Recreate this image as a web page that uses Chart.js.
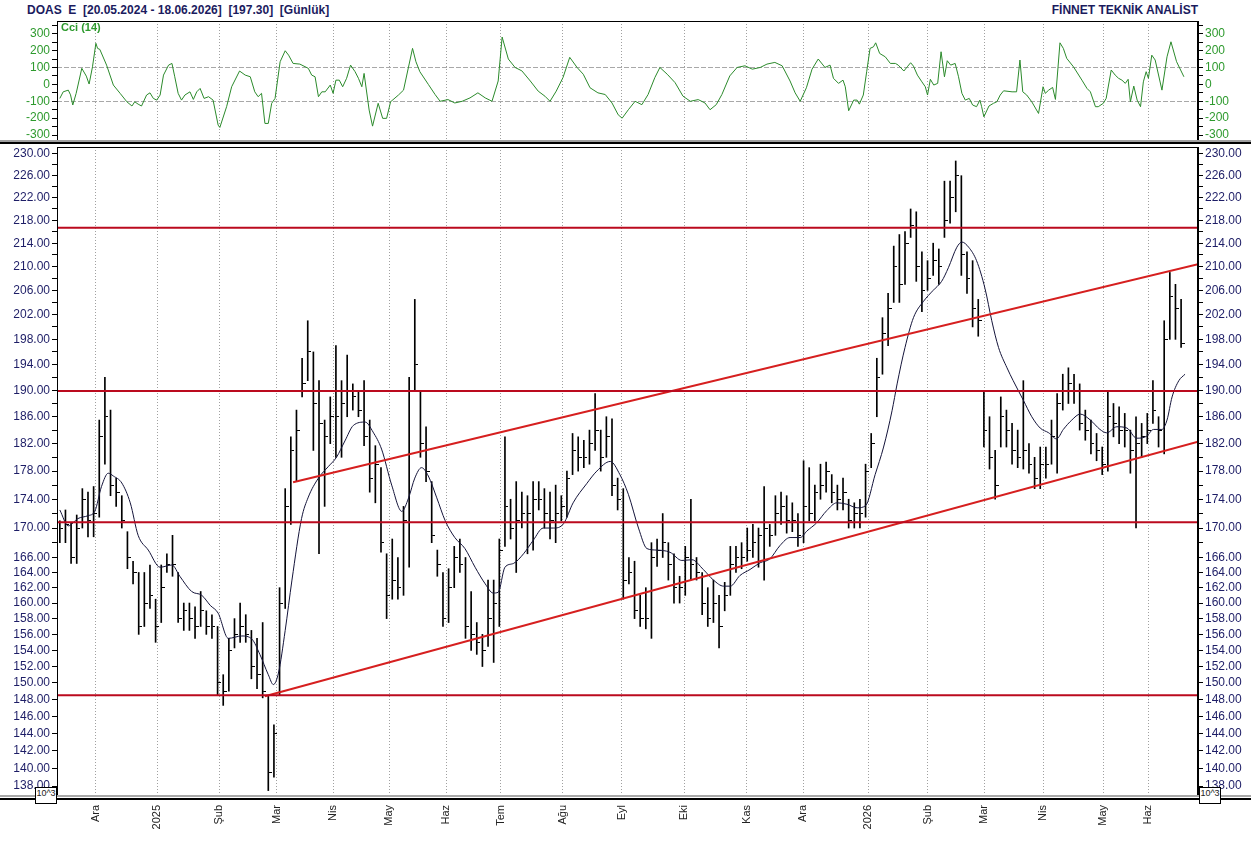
<!DOCTYPE html>
<html>
<head>
<meta charset="utf-8">
<script src="https://cdn.jsdelivr.net/npm/chart.js@4.4.1/dist/chart.umd.min.js"></script>
<style>
html, body { margin: 0; padding: 0; background: #fff; }
body { width: 1251px; height: 841px; position: relative; overflow: hidden; font-family: "Liberation Sans", Arial, sans-serif; }
canvas { position: absolute; left: 0; }
#cci { top: 18px; }
#main { top: 142px; }
.title { position: absolute; top: 3px; font-weight: bold; font-size: 12px; color: #1b1b5e; white-space: pre; }
.cciName { position: absolute; left: 61px; top: 21px; font-size: 11px; font-weight: bold; color: #2e9a2e; }
.line { position: absolute; left: 0; width: 1251px; }
.exp { position: absolute; top: 787px; width: 20px; height: 15px; border: 1px solid #000; background: #fff; font-size: 9px; line-height: 11px; text-align: center; color: #222; }
</style>
</head>
<body>
<div class="title" style="left:27px">DOAS  E  [20.05.2024 - 18.06.2026]  [197.30]  [Günlük]</div>
<div class="title" style="right:53px">FİNNET TEKNİK ANALİST</div>
<canvas id="cci" width="1251" height="123"></canvas>
<canvas id="main" width="1251" height="699"></canvas>
<div class="line" style="top:140px;height:2px;background:#a0a0a0"></div>
<div class="line" style="top:142px;height:2px;background:#000"></div>
<div class="line" style="top:795px;height:2px;background:#a8a8a8"></div>
<div class="line" style="top:798px;height:2px;background:#000"></div>
<div class="cciName">Cci (14)</div>
<div class="exp" style="left:35px">10^3</div>
<div class="exp" style="left:1199px">10^3</div>
<script>
// x axis: one bar = one slot, month labels sit on these slots
const monthLabels = ['Ara','2025','Şub','Mar','Nis','May','Haz','Tem','Ağu','Eyl','Eki','Kas','Ara','2026','Şub','Mar','Nis','May','Haz']
const monthBars = [6.37,17.31,28.31,38.5,48.54,58.48,68.55,78.26,89.26,99.73,110.84,121.92,131.97,143.5,154.05,164.1,174.56,185.2,193.2]
const xMin = -0.5
const xMax = 202

// price bars
const highs = [171,172.5,170.7,171.8,175.5,175,175.8,185.5,192,187,177,174.5,169.5,165.5,164,164,165,160.5,165,166.5,
  169,164,160,160,159.5,161.5,159,158.5,157,151,155.5,158,160,158.5,156.5,155.5,157.5,148.5,145,162,
  175.5,183,187,195,201,196,191.5,185.5,189,197,191.5,195.5,191,190,191.5,185.5,181.7,178.5,166.5,168.5,
  166,173,192,204.5,190,184.5,176.5,167,164,164.5,167.5,168.5,166,161.5,157.5,156,163,163,168.5,183,
  174,176.5,175,174.5,176.5,176.5,175.5,175,176,174.5,178,183.5,183,182.5,184,189.5,184,186,185.7,177,
  175.5,166,165.5,161,162,168,168.5,172,168,166.5,163.5,167.5,174,166,164,162,163,161,162.7,167.5,
  167.5,168,170,170.5,170,175.8,170.5,174.5,175,174.5,173.5,172,179.5,178.5,176,179,179.3,177.5,176,177,
  174,173.5,174,179,183.5,195,201.5,205.5,213.5,215.5,216,220,219.5,212.5,211,214,213,225,225,228.7,
  226,212.5,211,204.5,190,186,181,189,187,185,184,191.5,182,180,181.5,181.5,185.5,189.5,192.5,193.5,
  192.5,191,187,185.5,183.5,181.5,190,188,187.5,186.5,184,186,185,186.5,191.5,186,201,209,207,204.5]
const lows = [168,168,165.2,165.2,170,168.8,168.8,171.5,179,174.5,173,170,164.5,162.5,156,157,159.3,155,157.5,164,
  163.5,157.5,156.5,156.5,155.5,157,156,155.5,148.5,147.3,149,154.3,155,155,150.5,149.3,148.2,137.5,139,148.5,
  159.3,170.5,176.5,189,191.5,181,166.5,173,182,180,180,186,187,186,181.7,175,173.5,166.7,158,160.5,
  160.5,161,164.7,190,180,176.5,168,163.5,157,157.5,162,164,155.5,154,153.5,152,154.5,152.5,157,167.5,
  168.5,164,170,166.5,167,172.5,170,168.5,168,171,171.5,177.5,178,178.5,179,181,178,180,174.5,172.5,
  160.5,162.5,158,157,156.7,155.5,164.8,166,163,160,160,161,163,163,158.5,157,157.5,154.3,159,161,
  164,164.5,165.5,166,164.7,163,167.5,169,170.5,169.3,169.5,167.5,168,171,171,174,175,173.5,172.5,172.5,
  170,170,170,171.5,178.5,186,192.5,197,204,204,207,215,207.5,202.5,206,208.5,207,215,217.5,219.5,
  208.5,205.5,200,198.5,181.5,178.3,174,181.5,181.5,179,178.5,178.3,177.7,175.5,175.5,177,179,177.7,187,188,
  188,184,182.5,180.5,179.5,177.5,178,183,182,181.5,177.7,170,180,182,185,181.5,180.5,198,198,196.7]
const closes = [170,170.5,166,170,174,171,172,183,186,176,175,171,166,164,157,160,161,157,162,165,
  165,158,159,158,157,159,157,157,150,149,154,156,157,156,152,151,149,139.5,144,160,
  173,181,184,191,196,188,185,183,186,186,188,190,189,187,183,177,179,168,161,163,
  162,171,190,194,182,178,169,165,158,162,166,165,157,156,155,154,158,160,167,173,
  170,171,172,172,174,174,172,171,172,173,177,181,180,180,182,184,180,183,176,174,
  163,164,159,158,158,166,167,168,165,162,162,166,165,164,160,158,160,157,161,165,
  166,166,167,168,169,170,169,172,173,171,171,169,173,172,175,176,178,175,174,175,
  171,172,172,178,182,192,199,203,210,207,214,217,210,206,208,211,210,218,222,226,
  212,208,203,201,184,180,176,186,184,181,180,181,179,177,179,179,183,188,190,191,
  190,185,184,182,181,179,186,185,184,184,181,182,183,184,187,184,198,205,203,197.3]

// moving average line
const maBar = [0,1.5,3.2,5,6.2,7.4,8.6,9.5,11,12.5,13.9,15.7,17.8,19.9,21.3,23.4,25.2,26.7,28.1,29.9,
  32.3,34.1,35.5,37,37.9,38.8,40,41.2,42.9,44.1,45.9,47.7,49.1,50.6,52.1,54.2,55.6,57.1,58.9,60.7,
  61.9,63,64.2,65.4,66.9,68.4,70.1,71.9,73.7,75.5,76.9,77.8,79,80.5,82.3,84,85.8,87.6,89.4,91.1,
  93.5,95.3,97.7,99.4,100.9,102.7,104.2,105.9,108.3,110.4,112.2,114.2,116,117.8,119,120.7,122.5,124.3,126,127.8,
  129.6,131.4,132.6,134.3,136.1,137.9,139.7,141.5,143,144.7,146.2,147.7,148.6,150,151.5,153.3,155,156.5,157.7,159.2,
  160.1,161.3,162.7,164.2,165.4,166.6,168.1,169.2,171,172.5,174,175.5,176.9,178.1,179.6,181.1,182.9,184.6,185.8,187.6,
  189.4,191.1,192.9,194.1,195.6,196.5,197.4,198.6,199.7]
const maValue = [172.5,170.3,171.3,171.7,172.3,175.8,177.7,177.3,176.3,173.5,169,167,164.7,165,163.5,161.5,161,159.7,158.7,155.5,
  155.8,155.4,153.5,151,149.8,151.2,156.5,163,171.3,174.3,177,178.7,180,182.4,184.7,185.2,183.7,181.2,176,172.3,
  174.2,177,178.5,177.3,174.2,171,168.7,167.2,164.7,162.5,161.3,161.4,164.7,165.2,166.5,168.3,170,170,170.6,173.5,
  176.2,178,179.4,177.5,174.7,170,167.2,167,166.7,165.6,165.7,164.4,163,162.2,162.2,163.6,164.4,165.3,165.8,167.6,
  168.7,168.7,169.6,170.7,172.4,173.5,173.3,172.8,173.1,177.5,181.5,186.9,191,196.7,201.5,204.2,206,207.5,209.8,213.3,
  214.2,213.3,211,206.3,201,196.7,193.5,191.5,188.5,186,184.3,183.6,182.7,184.1,185.5,186.4,185.5,184.1,183.6,184.5,
  184.3,182.8,183.1,184.1,184.1,185.5,189,191.5,192.5]

// support / resistance levels and channel
const levels = [216.7, 189.9, 170.8, 148.5]
const channelLowBar = [36.4, 202]
const channelLowPrice = [148.4, 182.3]
const channelHighBar = [41.4, 202]
const channelHighPrice = [176.4, 210.4]

// price axis ticks
const priceLabels = [230,226,222,218,214,210,206,202,198,194,190,186,182,178,174,170,166,164,162,160,158,156,154,152,150,148,146,144,142,140,138]
const priceMinor = [228,224,220,216,212,208,204,200,196,192,188,184,180,176,172,168]

// CCI (14)
const cciBar = [0,0.6,1.5,1.9,2.3,2.9,3.9,4.7,5.2,5.8,6.4,6.7,7.1,8.3,9.5,10.7,11.9,12.8,13.3,13.9,
  14.5,15.4,16,16.6,17.2,17.8,18.4,19.3,19.9,20.4,21,21.6,22.2,23.1,23.7,24.3,24.9,25.6,26.4,27.2,
  28.1,28.4,29.6,30.5,31.9,32.9,33.8,34.6,35.2,35.8,36.4,37,37.6,38.2,39.1,40,40.6,41.4,42.6,44.1,
  44.7,45.3,45.9,46.5,47.1,48,48.5,49,49.6,50.2,50.9,51.6,52.4,53,53.6,54,54.9,55.5,56.5,57.3,
  58,58.7,60.1,61,62.6,63.2,63.9,65.4,66.6,67.5,68.9,70.1,71.4,72.8,74.2,75.5,76.7,77.8,78.5,79.6,
  80.8,82,83.5,84.9,86.1,87,88.1,89.3,90.5,91.8,92.9,94.1,95.5,96.8,98,99.1,99.8,100.9,102.1,103.3,
  104.4,105.6,106.5,107.8,109.2,110.6,111.9,113.3,114.5,115.4,116.5,117.5,118.9,120.2,121.6,122.9,124.3,125.5,126.9,128.2,
  129.6,130.5,131.4,132.5,133.5,134.6,135.8,136.7,137.3,138.2,139,139.4,140,140.9,141.5,141.9,142.6,143.2,143.8,144.4,
  144.8,145.5,146.5,147.4,148.3,148.8,149.8,150.4,151,151.5,152.2,153,153.6,154,154.5,155.1,155.8,156.4,157,157.5,
  158.1,158.9,159.5,160.1,160.7,161.4,162,162.7,163.3,163.6,164,164.9,165.7,166.3,166.9,167.5,169,169.8,170.4,170.9,
  171.6,172.5,173.7,174.5,174.9,175.5,176.2,176.7,177.5,178.1,178.7,179.9,181.4,182.3,182.9,183.8,184.3,185.2,185.7,186.6,
  187.3,187.9,188.5,189.1,189.6,190,190.6,191.2,191.8,192.3,192.8,193.2,193.8,194.4,195.6,196.5,197.2,198.2,199.5]
const cciValue = [-83,-44,-34,-62,-122,-53,95,49,2,104,243,213,207,114,-4,-53,-103,-128,-103,-117,
  -128,-63,-50,-83,-93,-63,55,114,124,45,-53,-93,-63,-44,-89,-44,-24,-83,-73,-93,
  -241,-255,-132,-14,79,55,45,-44,-73,-53,-231,-231,-112,-83,134,199,173,124,120,95,
  55,45,-73,-44,-44,-4,-53,25,25,-14,36,114,75,36,-14,65,-152,-247,-112,-201,
  -201,-103,-63,-34,213,134,75,0,-60,-100,-90,-110,-100,-80,-50,-80,-100,20,280,150,
  100,80,20,-40,-70,-100,-40,40,160,100,60,-20,-50,-60,-110,-180,-200,-150,-100,-120,
  -60,40,100,60,10,-70,-100,-90,-110,-150,-120,-60,50,100,110,90,100,120,130,110,
  20,-50,-100,-20,90,150,100,114,36,6,25,-14,-156,-93,-93,-117,-63,75,213,222,
  246,183,163,124,124,114,79,104,128,108,55,15,-14,-63,30,-4,6,193,45,140,
  114,124,45,-53,-93,-83,-122,-132,-93,-132,-192,-128,-112,-103,-63,-38,-44,-44,144,-44,
  -63,-103,-172,-14,-53,-34,-18,-89,246,213,154,104,25,-24,-44,-132,-132,-112,-83,85,
  55,36,25,6,30,-103,-10,-93,-132,15,75,36,173,144,-34,163,252,134,45]
const cciLabels = [300,200,100,0,-100,-200,-300]
const cciMinor = [350,250,150,50,-50,-150,-250]

Chart.defaults.font.family = '"Liberation Sans", Arial, sans-serif'
Chart.defaults.animation = false

const frame = {
  id: 'frame',
  afterDraw (chart) {
    const { ctx, chartArea: a } = chart
    ctx.save()
    ctx.strokeStyle = '#000'
    ctx.lineWidth = 1
    ctx.strokeRect(a.left + 0.5, a.top + 0.5, a.right - a.left - 1, a.bottom - a.top - 1)
    ctx.restore()
  }
}

const monthAxis = (showLabels) => ({
  type: 'linear',
  min: xMin,
  max: xMax,
  offset: false,
  afterBuildTicks: s => { s.ticks = monthBars.map(v => ({ value: v })) },
  afterFit: s => { s.height = showLabels ? 45 : 0; s.paddingLeft = 0; s.paddingRight = 0 },
  ticks: {
    display: showLabels,
    autoSkip: false,
    minRotation: 90,
    maxRotation: 90,
    padding: 9,
    color: '#222',
    font: { size: 11 },
    callback: (v, i) => monthLabels[i]
  },
  grid: { color: '#a0a0a0', drawTicks: false, offset: false },
  border: { display: false, dash: [1, 2] }
})

const sideAxis = (position, base) => Object.assign({}, base, {
  position,
  afterFit: s => { s.width = position === 'left' ? 57 : 53; s.paddingTop = 0; s.paddingBottom = 0 }
})

// close tick: a short stroke to the right of the bar
const closeMark = document.createElement('canvas')
closeMark.width = 7
closeMark.height = 1
const cm = closeMark.getContext('2d')
cm.fillStyle = '#000'
cm.fillRect(4, 0, 3, 1)

const priceAxis = {
  type: 'logarithmic',
  min: 136.9,
  max: 231.3,
  afterBuildTicks: s => { s.ticks = priceLabels.concat(priceMinor).sort((a, b) => b - a).map(v => ({ value: v })) },
  ticks: {
    autoSkip: false,
    padding: 2,
    color: '#1d1d66',
    font: { size: 12 },
    callback: v => priceLabels.includes(v) ? v.toFixed(2) : ''
  },
  grid: { drawOnChartArea: false, tickLength: 5, tickColor: '#000' },
  border: { color: '#000', width: 1 }
}

const cciAxis = {
  type: 'linear',
  min: -335,
  max: 375,
  afterBuildTicks: s => { s.ticks = cciLabels.concat(cciMinor).sort((a, b) => b - a).map(v => ({ value: v })) },
  ticks: {
    autoSkip: false,
    padding: 2,
    color: '#2e9a2e',
    font: { size: 12 },
    callback: v => cciLabels.includes(v) ? String(v) : ''
  },
  grid: {
    color: c => (c.tick && Math.abs(c.tick.value) === 100) ? '#a8a8a8' : 'rgba(0,0,0,0)',
    tickLength: 5,
    tickColor: '#000'
  },
  border: { color: '#000', width: 1, dash: [4, 3] }
}

new Chart(document.querySelector('#cci'), {
  type: 'line',
  data: {
    datasets: [{
      data: cciBar.map((b, i) => ({ x: b, y: cciValue[i] })),
      borderColor: '#2b8a2b',
      borderWidth: 1,
      pointRadius: 0,
      tension: 0
    }]
  },
  options: {
    responsive: false,
    events: [],
    layout: { padding: { top: 3, left: 0, right: 0, bottom: 0 } },
    plugins: { legend: { display: false }, tooltip: { enabled: false } },
    scales: {
      x: monthAxis(false),
      y: sideAxis('left', cciAxis),
      y2: sideAxis('right', cciAxis)
    }
  },
  plugins: [frame]
})

const redLine = (xs, ys, color) => ({
  type: 'line',
  data: xs.map((x, i) => ({ x, y: ys[i] })),
  borderColor: color,
  borderWidth: 2,
  pointRadius: 0,
  order: 0
})

new Chart(document.querySelector('#main'), {
  type: 'bar',
  data: {
    datasets: [
      ...levels.map(l => redLine([xMin, xMax], [l, l], '#bb0a1e')),
      redLine(channelLowBar, channelLowPrice, '#d61f1f'),
      redLine(channelHighBar, channelHighPrice, '#d61f1f'),
      {
        type: 'line',
        data: maBar.map((b, i) => ({ x: b, y: maValue[i] })),
        borderColor: '#14143a',
        borderWidth: 1,
        pointRadius: 0,
        cubicInterpolationMode: 'monotone',
        order: 1
      },
      {
        type: 'line',
        data: closes.map((c, i) => ({ x: i, y: c })),
        showLine: false,
        pointStyle: closeMark,
        pointRadius: 2,
        order: 2
      },
      {
        type: 'bar',
        data: highs.map((h, i) => ({ x: i, y: [lows[i], h] })),
        backgroundColor: '#000',
        borderWidth: 0,
        barThickness: 1,
        order: 3
      }
    ]
  },
  options: {
    responsive: false,
    events: [],
    layout: { padding: { top: 2, left: 0, right: 0, bottom: 0 } },
    plugins: { legend: { display: false }, tooltip: { enabled: false } },
    scales: {
      x: monthAxis(true),
      y: sideAxis('left', priceAxis),
      y2: sideAxis('right', priceAxis)
    }
  },
  plugins: [frame]
})
</script>
</body>
</html>
